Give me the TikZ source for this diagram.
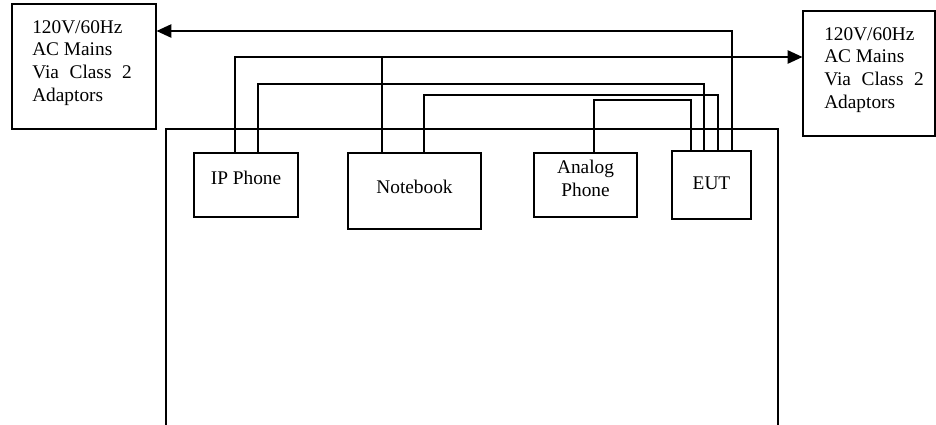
\documentclass[tikz,border=0pt]{standalone}
\usepackage{fontspec}
\setmainfont{Liberation Serif}
\usepackage{tikz}
\usetikzlibrary{positioning,calc,arrows.meta}

\begin{document}
\begin{tikzpicture}[
					x=0.75pt, y=-0.75pt,
					% khung thiet bi
					unit/.style={
						draw=black,
						line width=0.9pt,
						inner sep=0pt,
						anchor=center
					},
					wire/.style={draw=black, line width=0.9pt},
					feed/.style={wire, -{Triangle[length=11pt,width=10pt]}},
					lbl/.style={
						inner sep=0pt,
						font=\fontsize{14.5pt}{17.1pt}\selectfont
					}
					]
					\useasboundingbox[fill=white] (0,0) rectangle (936,425);
					
					% Nguon AC hai ben
					\node[unit, minimum width=108pt, minimum height=93.75pt] (lmains) at (84,66.5) {};
					\node[unit, minimum width=99pt, minimum height=93.75pt] (rmains) at (869,73.5) {};
					\node[lbl, anchor=north west, align=left] (lmainsT) at (32,20) {120V/60Hz\\AC Mains\\Via\hspace{0.55em}Class\hspace{0.55em}2\\Adaptors};
					\node[lbl, anchor=north west, align=left] (rmainsT) at (824,27) {120V/60Hz\\AC Mains\\Via\hspace{0.55em}Class\hspace{0.55em}2\\Adaptors};
					
					% Ban thu (khong co canh duoi)
					\draw[wire] (166,425) |- (778,129) -- (778,425);
					
					% Cac thiet bi tren ban
					\node[unit, minimum width=78pt, minimum height=48pt]    (ip)     at (246,185)   {};
					\node[unit, minimum width=99.75pt, minimum height=57pt] (nb)     at (414.5,191) {};
					\node[unit, minimum width=77.25pt, minimum height=48pt] (analog) at (585.5,185) {};
					\node[unit, minimum width=59.25pt, minimum height=51pt] (eut)    at (711.5,185) {};
					\node[lbl, anchor=base] (ipT) at (ip.north |- 0,184) {IP Phone};
					\node[lbl, anchor=base] (nbT) at (nb.north |- 0,193) {Notebook};
					\node[lbl, anchor=north, align=center] (analogT) at (analog.north |- 0,160) {Analog\\Phone};
					\node[lbl, anchor=base] (eutT) at (eut.north |- 0,189) {EUT};
					
					% Day nguon
					\draw[feed] (eut.north -| 732,0) |- (lmains.east |- 0,31);
					\draw[feed] (ip.north -| 235,0) |- (rmains.west |- 0,57);
					\coordinate (nbtap) at (382,57);
					\draw[wire] (nb.north -| nbtap) -- (nbtap);
					
					% Day tin hieu ve EUT
					\draw[wire] (ip.north -| 258,0) |- (704,84) -- (eut.north -| 704,0);
					\draw[wire] (nb.north -| 424,0) |- (718,95) -- (eut.north -| 718,0);
					\draw[wire] (analog.north -| 594,0) |- (691,100) -- (eut.north -| 691,0);
				\end{tikzpicture}
\end{document}
